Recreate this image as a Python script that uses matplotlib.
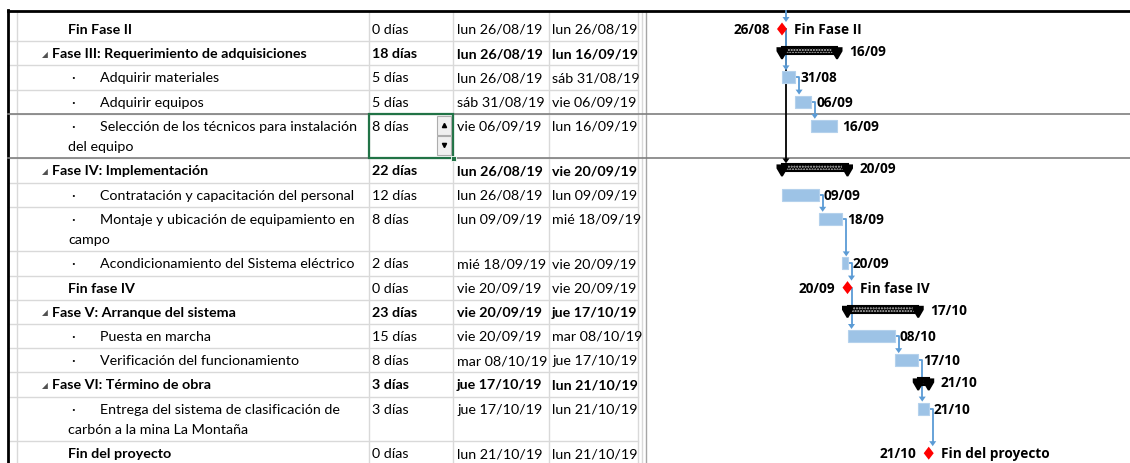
import matplotlib
matplotlib.use('Agg')
import matplotlib.pyplot as plt
import matplotlib.dates as mdates
from matplotlib.patches import Rectangle, Polygon
from datetime import datetime

# Extracto del cronograma (vista Diagrama de Gantt de MS Project)
nombres = ['Fin Fase II',
           'Fase III: Requerimiento de adquisiciones',
           'Adquirir materiales',
           'Adquirir equipos',
           'Selección de los técnicos para instalación\ndel equipo',
           'Fase IV: Implementación',
           'Contratación y capacitación del personal',
           'Montaje y ubicación de equipamiento en\ncampo',
           'Acondicionamiento del Sistema eléctrico',
           'Fin fase IV',
           'Fase V: Arranque del sistema',
           'Puesta en marcha',
           'Verificación del funcionamiento',
           'Fase VI: Término de obra',
           'Entrega del sistema de clasificación de\ncarbón a la mina La Montaña',
           'Fin del proyecto']
tipos = ['hito', 'resumen', 'tarea', 'tarea', 'tarea', 'resumen', 'tarea', 'tarea',
         'tarea', 'hito', 'resumen', 'tarea', 'tarea', 'resumen', 'tarea', 'hito']
duraciones = ['0 días', '18 días', '5 días', '5 días', '8 días', '22 días', '12 días', '8 días',
              '2 días', '0 días', '23 días', '15 días', '8 días', '3 días', '3 días', '0 días']
comienzos = ['lun 26/08/19', 'lun 26/08/19', 'lun 26/08/19', 'sáb 31/08/19', 'vie 06/09/19',
             'lun 26/08/19', 'lun 26/08/19', 'lun 09/09/19', 'mié 18/09/19', 'vie 20/09/19',
             'vie 20/09/19', 'vie 20/09/19', 'mar 08/10/19', 'jue 17/10/19', 'jue 17/10/19',
             'lun 21/10/19']
fines = ['lun 26/08/19', 'lun 16/09/19', 'sáb 31/08/19', 'vie 06/09/19', 'lun 16/09/19',
         'vie 20/09/19', 'lun 09/09/19', 'mié 18/09/19', 'vie 20/09/19', 'vie 20/09/19',
         'jue 17/10/19', 'mar 08/10/19', 'jue 17/10/19', 'lun 21/10/19', 'lun 21/10/19',
         'lun 21/10/19']
# predecesora de cada fila (-1 = tarea fuera de la vista, None = sin vínculo)
predecesoras = [-1, None, 0, 2, 3, 0, None, 6, 7, 8, None, 9, 11, None, 12, 14]
fila_sel = 4  # fila seleccionada (celda de duración activa)

W, H = 1130, 464
FUENTE = 'Lato'
FUENTE_G = 'Open Sans'
TAM = 10.3
TAM_G = 9.8
AZUL_BARRA = '#9DC3E6'
AZUL_LINK = '#5B9BD5'
GRIS = '#D9D9D9'


def fecha(s):
    return datetime.strptime(s.split()[1], '%d/%m/%y')


ini = [mdates.date2num(fecha(s)) for s in comienzos]
fin = [mdates.date2num(fecha(s)) for s in fines]

# geometría de filas (pixeles)
Y0, ALTO, LINEA = 18, 24.2, 20.4
tops = []
y = Y0
for n in nombres:
    tops.append(y)
    y += ALTO + LINEA * n.count('\n')
bottoms = tops[1:] + [y]
centros = [t + 12 for t in tops]

fig = plt.figure(figsize=(W / 100, H / 100), dpi=100)
ax = fig.add_axes([0, 0, 1, 1])
ax.set_xlim(0, W)
ax.set_ylim(H, 0)
ax.axis('off')

# ---- tabla ----
for b in bottoms:
    ax.plot([8, 638], [b, b], color=GRIS, lw=1, zorder=1)
for xv in [17, 369, 453, 549, 638, 642]:
    ax.plot([xv, xv], [12, H], color=GRIS, lw=1, zorder=1)
ax.plot([646, 646], [12, H], color='#A6A6A6', lw=1, zorder=1)
ax.plot([8, 8], [11, H], color='black', lw=2, zorder=5)
ax.plot([8, W], [12, 12], color='black', lw=2, zorder=5)
for yy in [tops[fila_sel], bottoms[fila_sel]]:
    ax.plot([8, W], [yy, yy], color='#7F7F7F', lw=1.2, zorder=5)

for i, n in enumerate(nombres):
    cy = centros[i]
    peso = 'bold' if tipos[i] == 'resumen' else 'normal'
    lineas = n.split('\n')
    if tipos[i] == 'resumen':
        ax.text(45, cy, '◢', fontsize=5.5, color='#505050', ha='center', va='center',
                family='DejaVu Sans')
        ax.text(52, cy, lineas[0], fontsize=TAM, fontweight='bold', va='center', family=FUENTE)
    elif tipos[i] == 'hito':
        ax.text(68, cy, lineas[0], fontsize=TAM, fontweight='bold', va='center', family=FUENTE)
    else:
        ax.text(71, cy, '·', fontsize=TAM, va='center', family=FUENTE)
        ax.text(100, cy, lineas[0], fontsize=TAM, va='center', family=FUENTE)
        for k, l in enumerate(lineas[1:]):
            ax.text(68, cy + LINEA * (k + 1), l, fontsize=TAM, va='center', family=FUENTE)
    ax.text(372, cy, duraciones[i], fontsize=TAM, fontweight=peso, va='center', family=FUENTE)
    ax.text(457, cy, comienzos[i], fontsize=TAM, fontweight=peso, va='center', family=FUENTE)
    ax.text(552, cy, fines[i], fontsize=TAM, fontweight=peso, va='center', family=FUENTE)

# celda activa con control de giro
t, b = tops[fila_sel], bottoms[fila_sel]
ax.add_patch(Rectangle((369, t), 84, b - t, fill=False, edgecolor='#217346', lw=1.6, zorder=6))
ax.add_patch(Rectangle((450.5, b - 2.5), 5, 5, facecolor='#217346', edgecolor='white', lw=0.6, zorder=7))
for yy, mk in [(t + 2, '^'), (t + 22, 'v')]:
    ax.add_patch(Rectangle((437, yy), 14, 19, facecolor='#F0F0F0', edgecolor='#ADADAD', lw=0.8, zorder=6))
    ax.plot(444, yy + 9.5, marker=mk, ms=3, color='black', zorder=7)

# ---- diagrama de Gantt ----
PX = 2.62  # pixeles por día
gx = fig.add_axes([646 / W, 0, (W - 646) / W, 1])
x_ref = mdates.date2num(fecha(comienzos[0]))
gx.set_xlim(x_ref - 136 / PX, x_ref + (W - 782) / PX)
gx.set_ylim(H, 0)
gx.axis('off')


def dx(px):
    return px / PX


OFF = dx(4)
for i, p in enumerate(predecesoras):
    if p is None:
        continue
    xs = ini[i] + OFF
    tip = centros[i] - 7
    if p == -1:
        x0, y0 = xs, 12
    else:
        x0, y0 = fin[p], centros[p]
    col = 'black' if tipos[i] == 'resumen' else AZUL_LINK
    z = 2 if tipos[i] == 'resumen' else 2.5
    gx.plot([x0, xs, xs], [y0, y0, tip - 4], color=col, lw=1.3, zorder=z,
            solid_joinstyle='round')
    gx.add_patch(Polygon([(xs - dx(3.5), tip - 5), (xs + dx(3.5), tip - 5), (xs, tip)],
                         closed=True, facecolor=col, edgecolor='none', zorder=z))

for i in range(len(nombres)):
    cy = centros[i]
    etiqueta = fines[i].split()[1][:5]
    if tipos[i] == 'tarea':
        gx.add_patch(Rectangle((ini[i], cy - 6), fin[i] - ini[i], 12, facecolor=AZUL_BARRA,
                               edgecolor='#B4D1EC', lw=0.8, zorder=3))
        gx.annotate(etiqueta, (fin[i], cy), xytext=(3.8, 0), textcoords='offset points',
                    fontsize=TAM_G, fontweight='bold', va='center', family=FUENTE_G, zorder=4)
    elif tipos[i] == 'resumen':
        gx.add_patch(Rectangle((ini[i], cy - 6), fin[i] - ini[i], 7, facecolor='black',
                               edgecolor='#C8C8C8', lw=0, hatch='......', zorder=3))
        gx.add_patch(Rectangle((ini[i], cy - 6), fin[i] - ini[i], 7, fill=False,
                               edgecolor='black', lw=1.5, zorder=3))
        for xc in [ini[i], fin[i]]:
            gx.add_patch(Polygon([(xc - dx(5.5), cy - 6), (xc + dx(5.5), cy - 6),
                                  (xc + dx(5.5), cy - 2), (xc + dx(0.8), cy + 6),
                                  (xc - dx(0.8), cy + 6), (xc - dx(5.5), cy - 2)],
                                 closed=True, facecolor='black', edgecolor='none', zorder=3))
        gx.annotate(etiqueta, (fin[i], cy - 2), xytext=(8.6, 0), textcoords='offset points',
                    fontsize=TAM_G, fontweight='bold', va='center', family=FUENTE_G, zorder=4)
    else:
        gx.add_patch(Polygon([(fin[i] - dx(5), cy), (fin[i], cy - 6.5), (fin[i] + dx(5), cy),
                              (fin[i], cy + 6.5)], closed=True, facecolor='#FF0000',
                             edgecolor='none', zorder=4))
        gx.annotate(etiqueta, (fin[i], cy), xytext=(-8.6, 0), textcoords='offset points',
                    ha='right', fontsize=TAM_G, fontweight='bold', va='center', family=FUENTE_G,
                    zorder=4)
        gx.annotate(nombres[i], (fin[i], cy), xytext=(9.0, 0), textcoords='offset points',
                    fontsize=TAM_G, fontweight='bold', va='center', family=FUENTE_G, zorder=4)

fig.savefig('out.png', dpi=100)
